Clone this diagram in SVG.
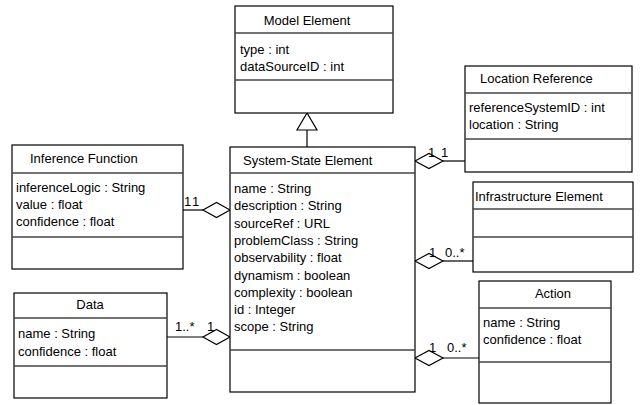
<svg xmlns="http://www.w3.org/2000/svg" width="641" height="405" viewBox="0 0 641 405">
  <style>
    text { font-family: "Liberation Sans", Arial, sans-serif; font-size: 13px; fill: #000; }
    .box { fill: #fff; stroke: #000; stroke-width: 1.2; }
    .sep { stroke: #444; stroke-width: 1.6; }
    .line { stroke: #000; stroke-width: 1.2; fill: none; }
    .agg { fill: #fff; stroke: #000; stroke-width: 1.2; }
    .mid { text-anchor: middle; }
  </style>
  <rect width="641" height="405" fill="#fff"/>

  <!-- connectors -->
  <g id="connectors">
    <!-- generalisation: System-State Element -> Model Element -->
    <line class="line" x1="307" y1="130" x2="307" y2="147"/>
    <polygon class="agg" points="307,113 297,130 317,130"/>
    <!-- Location Reference -->
    <line class="line" x1="443" y1="161" x2="465" y2="161"/>
    <polygon class="agg" points="415,161 429,153.5 443,161 429,168.5"/>
    <text x="428" y="157">1</text>
    <text x="441" y="157">1</text>
    <!-- Inference Function -->
    <line class="line" x1="183" y1="210" x2="203" y2="210"/>
    <polygon class="agg" points="230,210 216.5,202.5 203,210 216.5,217.5"/>
    <text x="184" y="206">1</text>
    <text x="192" y="206">1</text>
    <!-- Infrastructure Element -->
    <line class="line" x1="443" y1="261" x2="473" y2="261"/>
    <polygon class="agg" points="415,261 429,253.5 443,261 429,268.5"/>
    <text x="429" y="257">1</text>
    <text x="445" y="257">0..*</text>
    <!-- Data -->
    <line class="line" x1="167" y1="337" x2="203" y2="337"/>
    <polygon class="agg" points="230,337 216.5,329.5 203,337 216.5,344.5"/>
    <text x="175" y="331">1..*</text>
    <text x="207" y="331">1</text>
    <!-- Action -->
    <line class="line" x1="443" y1="358" x2="479" y2="358"/>
    <polygon class="agg" points="415,358 429,350.5 443,358 429,365.5"/>
    <text x="429" y="352">1</text>
    <text x="447" y="352">0..*</text>
  </g>

  <g id="model-element">
    <rect class="box" x="235" y="6" width="158" height="107"/>
    <line class="sep" x1="235" y1="33" x2="393" y2="33"/>
    <line class="sep" x1="235" y1="80" x2="393" y2="80"/>
    <text class="mid" x="307" y="25">Model Element</text>
    <text x="240" y="54">type : int</text>
    <text x="240" y="71">dataSourceID : int</text>
  </g>

  <g id="location-reference">
    <rect class="box" x="465" y="66" width="167" height="106"/>
    <line class="sep" x1="465" y1="93" x2="632" y2="93"/>
    <line class="sep" x1="465" y1="139" x2="632" y2="139"/>
    <text x="480" y="83">Location Reference</text>
    <text x="469" y="112">referenceSystemID : int</text>
    <text x="469" y="129">location : String</text>
  </g>

  <g id="inference-function">
    <rect class="box" x="12" y="145" width="171" height="124"/>
    <line class="sep" x1="12" y1="173" x2="183" y2="173"/>
    <line class="sep" x1="12" y1="237" x2="183" y2="237"/>
    <text x="30" y="163">Inference Function</text>
    <text x="16" y="192">inferenceLogic : String</text>
    <text x="16" y="209">value : float</text>
    <text x="16" y="226">confidence : float</text>
  </g>

  <g id="system-state-element">
    <rect class="box" x="230" y="147" width="185" height="245"/>
    <line class="sep" x1="230" y1="173" x2="415" y2="173"/>
    <line class="sep" x1="230" y1="350" x2="415" y2="350"/>
    <text x="243" y="165">System-State Element</text>
    <text x="234" y="193">name : String</text>
    <text x="234" y="210.3">description : String</text>
    <text x="234" y="227.6">sourceRef : URL</text>
    <text x="234" y="244.9">problemClass : String</text>
    <text x="234" y="262.2">observability : float</text>
    <text x="234" y="279.5">dynamism : boolean</text>
    <text x="234" y="296.8">complexity : boolean</text>
    <text x="234" y="314.1">id : Integer</text>
    <text x="234" y="331.4">scope : String</text>
  </g>

  <g id="infrastructure-element">
    <rect class="box" x="473" y="182" width="160" height="90"/>
    <line class="sep" x1="473" y1="209" x2="633" y2="209"/>
    <line class="sep" x1="473" y1="237" x2="633" y2="237"/>
    <text x="475" y="201">Infrastructure Element</text>
  </g>

  <g id="data">
    <rect class="box" x="14" y="293" width="153" height="105"/>
    <line class="sep" x1="14" y1="318" x2="167" y2="318"/>
    <line class="sep" x1="14" y1="366" x2="167" y2="366"/>
    <text class="mid" x="90" y="309">Data</text>
    <text x="18" y="338">name : String</text>
    <text x="18" y="356">confidence : float</text>
  </g>

  <g id="action">
    <rect class="box" x="479" y="281" width="132" height="122"/>
    <line class="sep" x1="479" y1="308" x2="611" y2="308"/>
    <line class="sep" x1="479" y1="362" x2="611" y2="362"/>
    <text class="mid" x="553" y="298">Action</text>
    <text x="483" y="327">name : String</text>
    <text x="483" y="344">confidence : float</text>
  </g>
</svg>
